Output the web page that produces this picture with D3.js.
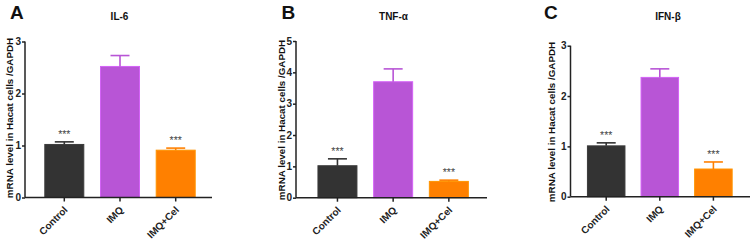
<!DOCTYPE html>
<html>
<head>
<meta charset="utf-8">
<script src="https://cdn.jsdelivr.net/npm/d3@7"></script>
<style>
  html, body { margin: 0; padding: 0; background: #fff; }
  svg { display: block; font-family: "Liberation Sans", Arial, sans-serif; }
</style>
</head>
<body>
<svg id="chart" width="752" height="242"></svg>
<script>
// ---- data ----
const categories = ["Control", "IMQ", "IMQ+Cel"];
const barColors = ["#333333", "#b855d6", "#ff8000"];
const significance = ["***", "", "***"];

const il6Mean = [1.02, 2.52, 0.91];
const il6Err  = [0.05, 0.21, 0.04];
const il6Ticks = [0, 1, 2, 3];

const tnfMean = [1.02, 3.70, 0.52];
const tnfErr  = [0.22, 0.41, 0.04];
const tnfTicks = [0, 1, 2, 3, 4, 5];

const ifnMean = [1.01, 2.37, 0.55];
const ifnErr  = [0.06, 0.17, 0.14];
const ifnTicks = [0, 1, 2, 3];

const panelLetters = ["A", "B", "C"];
const panelTitles = ["IL-6", "TNF-α", "IFN-β"];
const yLabel = "mRNA level in Hacat cells /GAPDH";

// ---- layout ----
const panels = [
  { letter: panelLetters[0], title: panelTitles[0], mean: il6Mean, err: il6Err, ticks: il6Ticks, yMax: 3,
    axisX: 25, axisEnd: 212, yTop: 41.5, yBottom: 197.5, band: [36.45, 203.55],
    letterX: 10, titleX: 119.5, labelX: 9.5, labelY: 118 },
  { letter: panelLetters[1], title: panelTitles[1], mean: tnfMean, err: tnfErr, ticks: tnfTicks, yMax: 5,
    axisX: 296, axisEnd: 487, yTop: 41, yBottom: 197.7, band: [309.6, 476.7],
    letterX: 281.5, titleX: 393.5, labelX: 281.5, labelY: 120 },
  { letter: panelLetters[2], title: panelTitles[2], mean: ifnMean, err: ifnErr, ticks: ifnTicks, yMax: 3,
    axisX: 570.5, axisEnd: 750, yTop: 45.7, yBottom: 196.7, band: [579.4, 740.2],
    letterX: 544, titleX: 668, labelX: 551, labelY: 122 }
];

const svg = d3.select("#chart");

panels.forEach(p => {
  const g = svg.append("g");
  const x = d3.scaleBand().domain(categories).range(p.band).paddingInner(0.3).paddingOuter(0.15);
  const y = d3.scaleLinear().domain([0, p.yMax]).range([p.yBottom, p.yTop]);

  // panel letter
  g.append("text").attr("x", p.letterX).attr("y", 19)
    .attr("font-size", 19).attr("font-weight", "bold").attr("fill", "#111").text(p.letter);
  // title
  g.append("text").attr("x", p.titleX).attr("y", 20).attr("text-anchor", "middle")
    .attr("font-size", 10).attr("font-weight", "bold").attr("fill", "#111").text(p.title);
  // y label
  g.append("text").attr("transform", `translate(${p.labelX},${p.labelY}) rotate(-90)`)
    .attr("text-anchor", "middle").attr("dominant-baseline", "central")
    .attr("font-size", 9.8).attr("font-weight", "bold").attr("fill", "#111").text(yLabel);

  // bars
  categories.forEach((c, i) => {
    g.append("rect")
      .attr("x", x(c)).attr("y", y(p.mean[i]))
      .attr("width", x.bandwidth()).attr("height", y(0) - y(p.mean[i]))
      .attr("fill", barColors[i])
      .attr("stroke", d3.color(barColors[i]).brighter(0.4)).attr("stroke-width", 1);
    const cx = x(c) + x.bandwidth() / 2;
    const top = y(p.mean[i] + p.err[i]);
    g.append("line").attr("x1", cx).attr("x2", cx).attr("y1", y(p.mean[i])).attr("y2", top)
      .attr("stroke", barColors[i]).attr("stroke-width", 1.6);
    g.append("line").attr("x1", cx - 9.5).attr("x2", cx + 9.5).attr("y1", top).attr("y2", top)
      .attr("stroke", barColors[i]).attr("stroke-width", 1.6);
    if (significance[i]) {
      g.append("text").attr("x", cx).attr("y", top - 4).attr("text-anchor", "middle")
        .attr("font-size", 10.5).attr("fill", "#444").text(significance[i]);
    }
  });

  // y axis
  const yAxis = g.append("g").attr("transform", `translate(${p.axisX},0)`)
    .call(d3.axisLeft(y).tickValues(p.ticks).tickFormat(d3.format("d")).tickSize(3).tickPadding(1));
  yAxis.select(".domain").attr("d", `M0,${p.yTop}V${p.yBottom}`);
  // x axis
  const xAxis = g.append("g").attr("transform", `translate(0,${p.yBottom})`)
    .call(d3.axisBottom(x).tickSize(4).tickSizeOuter(0));
  xAxis.select(".domain").attr("d", `M${p.axisX},0H${p.axisEnd}`);
  xAxis.selectAll(".tick text")
    .attr("text-anchor", "end").attr("dy", 0).attr("y", 0)
    .attr("transform", "translate(4,13) rotate(-45)");

  [yAxis, xAxis].forEach(a => {
    a.selectAll(".domain").attr("stroke", "#222").attr("stroke-width", 1.5);
    a.selectAll(".tick line").attr("stroke", "#222").attr("stroke-width", 1.5);
    a.selectAll(".tick text").attr("font-size", 10).attr("font-weight", "bold")
      .attr("fill", "#222").attr("font-family", "Liberation Sans, Arial, sans-serif");
  });
});
</script>
</body>
</html>
